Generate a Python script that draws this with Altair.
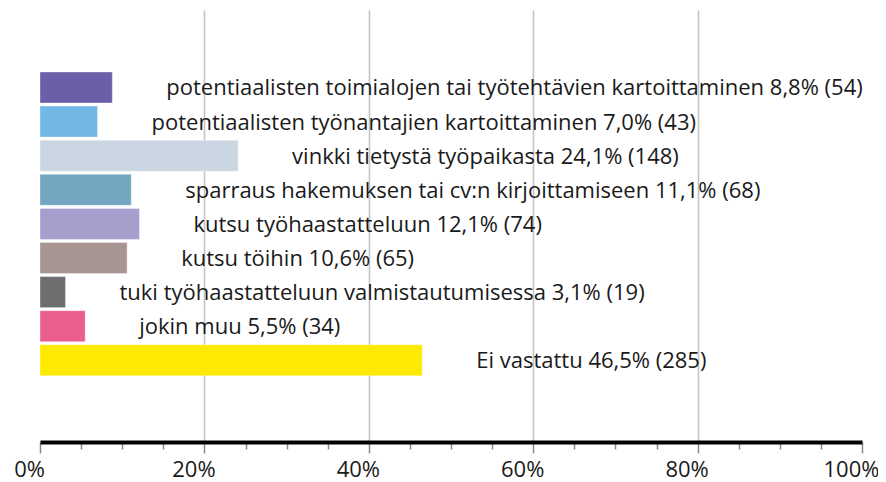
import altair as alt
import pandas as pd

categories = [
    "potentiaalisten toimialojen tai työtehtävien kartoittaminen",
    "potentiaalisten työnantajien kartoittaminen",
    "vinkki tietystä työpaikasta",
    "sparraus hakemuksen tai cv:n kirjoittamiseen",
    "kutsu työhaastatteluun",
    "kutsu töihin",
    "tuki työhaastatteluun valmistautumisessa",
    "jokin muu",
    "Ei vastattu",
]
percents = [8.8, 7.0, 24.1, 11.1, 12.1, 10.6, 3.1, 5.5, 46.5]
counts = [54, 43, 148, 68, 74, 65, 19, 34, 285]
colors = ["#6a5fa8", "#72b8e6", "#cad6e2", "#73a6c0", "#a59fcd",
          "#a79592", "#6e6e6e", "#ea5e8c", "#fdea00"]
tick_values = [i / 20 for i in range(21)]  # ticks every 5 %, labels every 20 %

df = pd.DataFrame({
    "cat": categories,
    "share": [p / 100 for p in percents],
    "n": counts,
    "color": colors,
})
df["label"] = [
    f"{c} {str(p).replace('.', ',')}% ({n})" for c, p, n in zip(categories, percents, counts)
]

FONT = "Open Sans"
MAJOR = "round(datum.value * 100) % 20 == 0"

# empty slots above and below the bars keep the white space of the original
y_domain = ["__top"] + categories + ["__bottom"]
yenc = alt.Y("cat:N", axis=None,
             scale=alt.Scale(domain=y_domain, paddingInner=0.09,
                             paddingOuter=0.879, align=0.465))

xscale = alt.Scale(domain=[0, 1], nice=False, zero=True)

bars = alt.Chart(df).mark_bar(stroke="#ffffff", strokeWidth=0.6, strokeOpacity=0.6).encode(
    x=alt.X("share:Q", scale=xscale,
            axis=alt.Axis(orient="bottom", values=tick_values, format=".0%",
                          labelExpr=f"{MAJOR} ? datum.label : ''",
                          labelFlush=False, labelOffset=-11,
                          grid=True,
                          gridColor={"condition": {"test": f"{MAJOR} && datum.value > 0 && datum.value < 1",
                                                   "value": "#c4c4c4"},
                                     "value": "transparent"},
                          gridWidth=1.6,
                          domain=True, domainColor="#000000", domainWidth=4,
                          ticks=True, tickColor="#8a8a8a", tickWidth=1.5,
                          tickSize={"condition": {"test": MAJOR, "value": 11}, "value": 7},
                          labelFont=FONT, labelFontSize=22, labelColor="#1a1a1a",
                          labelPadding=6, title=None)),
    y=yenc,
    color=alt.Color("color:N", scale=None),
)

text = alt.Chart(df).mark_text(align="left", baseline="middle", dx=54, dy=1,
                               font=FONT, fontSize=22, color="#1a1a1a").encode(
    x=alt.X("share:Q", scale=xscale),
    y=yenc,
    text="label:N",
)

chart = alt.layer(bars, text).properties(
    width=822, height=432,
    background="#ffffff",
    autosize=alt.AutoSizeParams(type="none"),
    padding={"left": 32, "top": 2, "right": 16, "bottom": 40},
).configure_view(stroke=None)

chart.save("out.html", embed_options={"renderer": "svg", "actions": False})
